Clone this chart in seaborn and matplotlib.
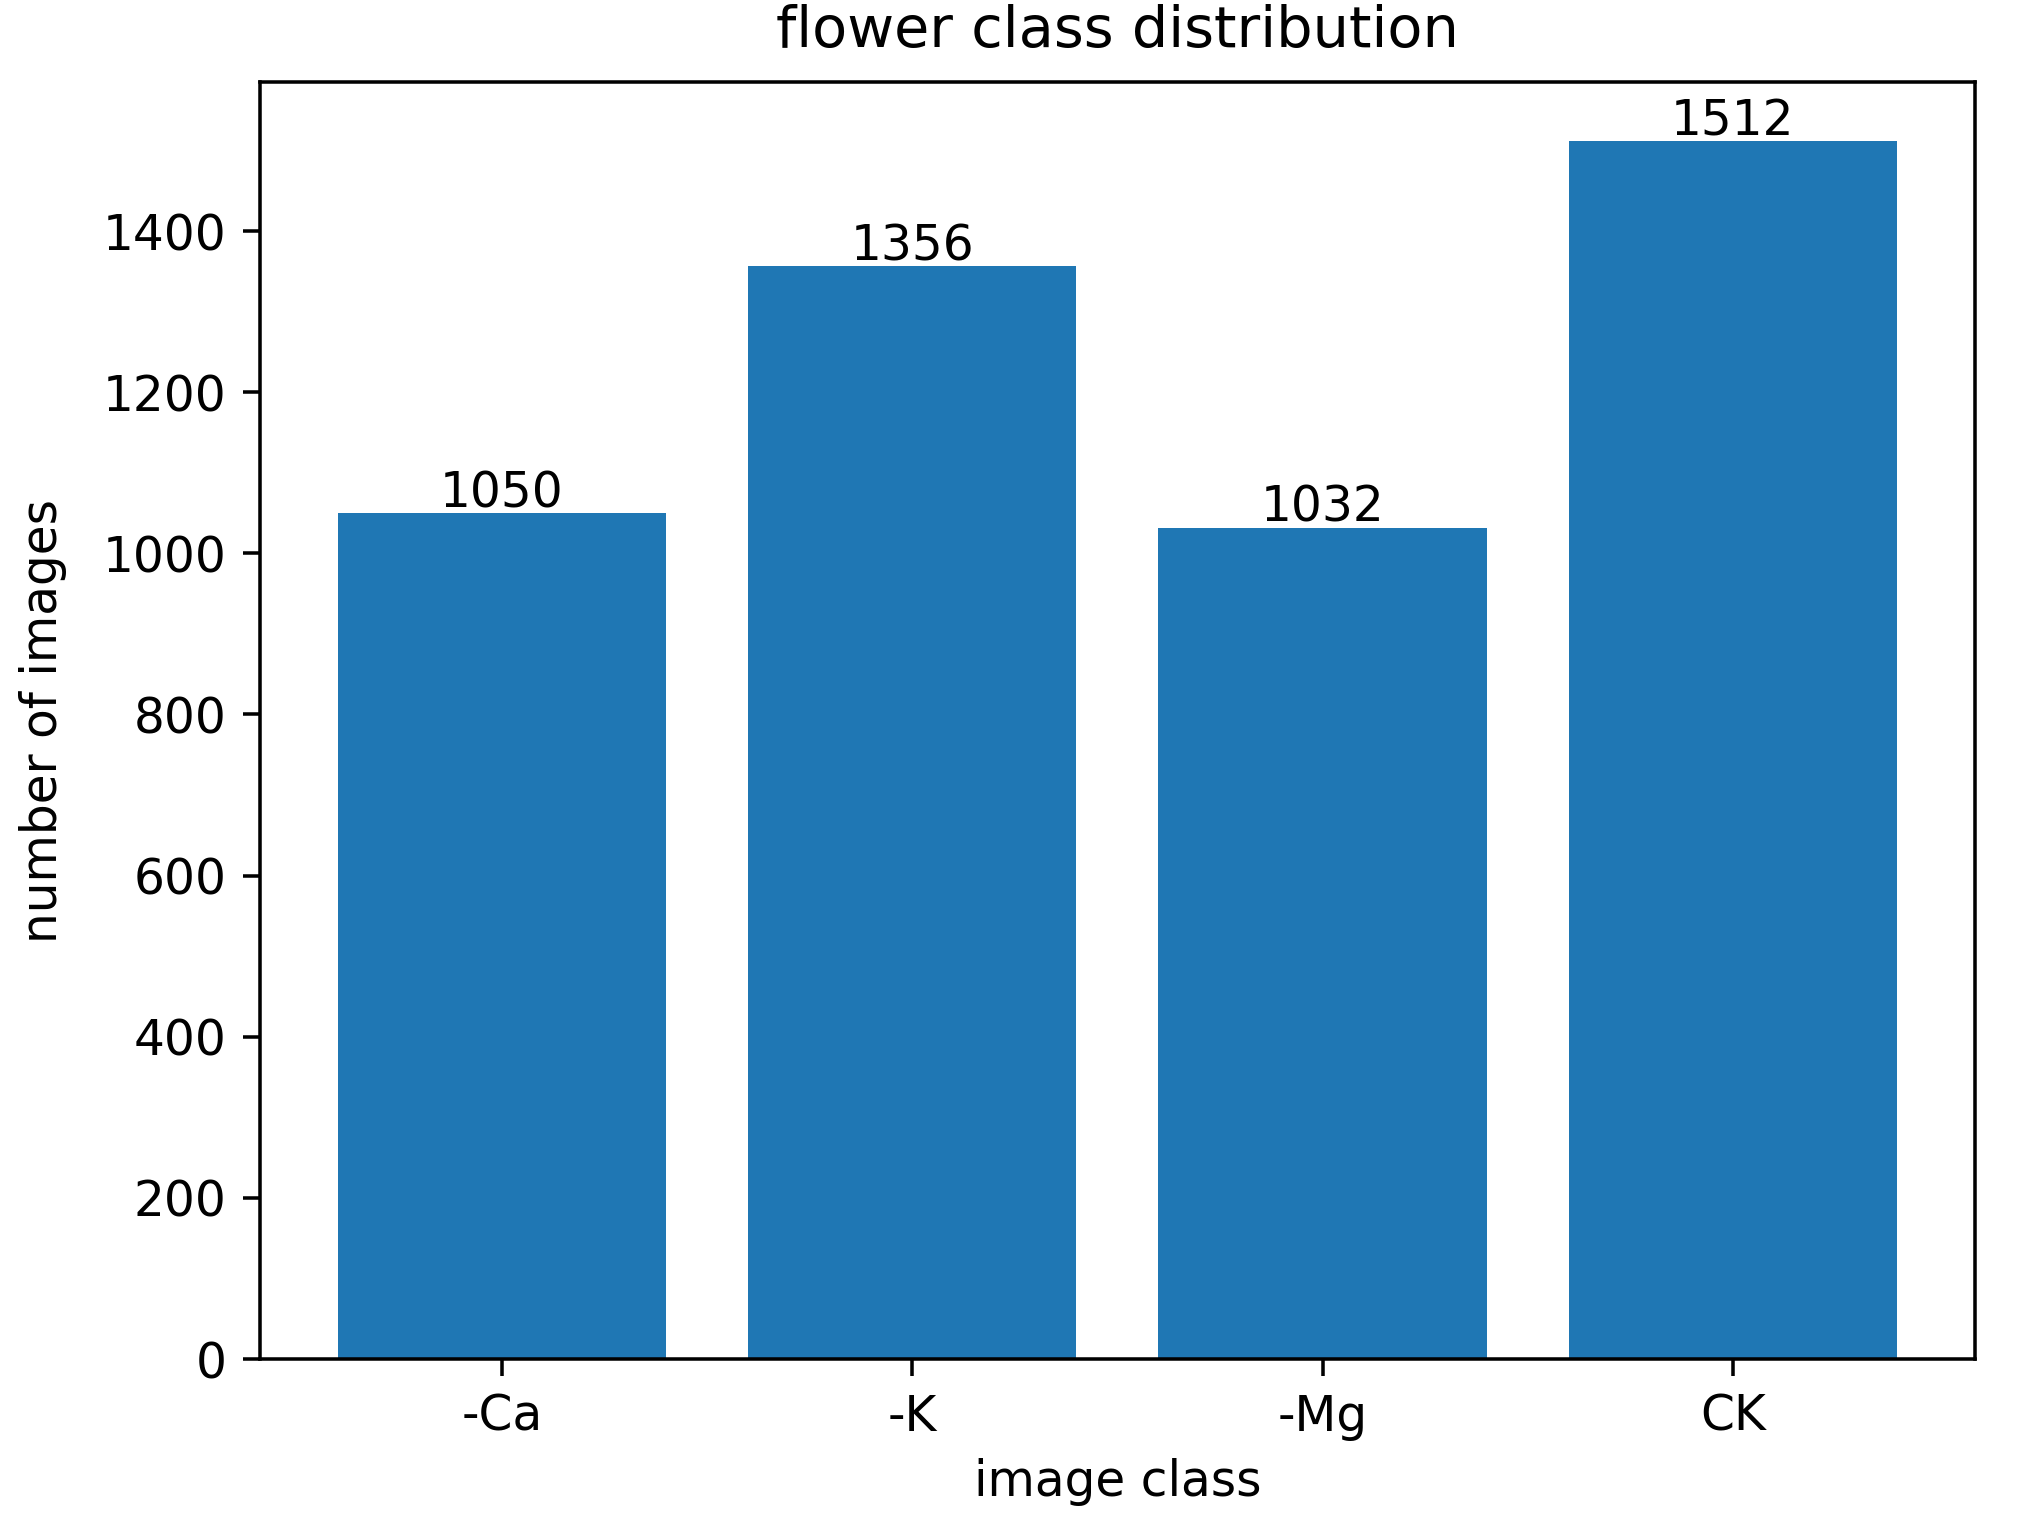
import matplotlib
matplotlib.use("Agg")
import matplotlib.pyplot as plt
import seaborn as sns
import pandas as pd

categories = ["-Ca", "-K", "-Mg", "CK"]
counts = [1050, 1356, 1032, 1512]

df = pd.DataFrame({"image class": categories, "number of images": counts})

dpi = 318
fig = plt.figure(figsize=(2036 / dpi, 1518 / dpi), dpi=dpi)
ax = fig.add_axes([0.1277, 0.1047, 0.970 - 0.1277, 0.946 - 0.1047])
sns.barplot(data=df, x="image class", y="number of images", color="#1f77b4",
            saturation=1, width=0.8, ax=ax, errorbar=None)
for c in ax.containers:
    ax.bar_label(c, fontsize=11, padding=-1)
ax.set_xlim(-0.59, 3.59)
ax.set_ylim(0, 1585)
ax.tick_params(labelsize=11, length=3.8, pad=3.8)
ax.set_title("flower class distribution", fontsize=13, pad=8)
ax.set_xlabel("image class", fontsize=11, labelpad=4)
ax.set_ylabel("number of images", fontsize=11, labelpad=8)
fig.savefig("out.png", dpi=dpi)
